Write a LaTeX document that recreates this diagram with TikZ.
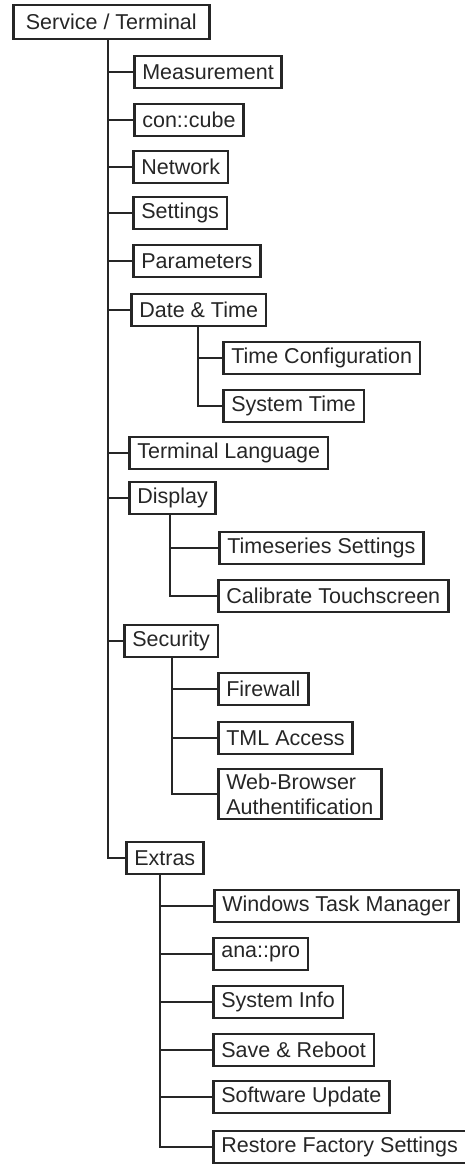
\documentclass[tikz,border=0pt]{standalone}
\usepackage{fontspec}
\setmainfont{Liberation Sans}
\begin{document}
\begin{tikzpicture}[x=1pt,y=-1pt,
  menubox/.style={draw=black!85, line width=2.6pt, anchor=west, minimum height=32pt,
    inner xsep=8pt, inner ysep=2pt, text=black!85, align=left,
    font=\fontsize{21.5}{25}\selectfont},
  link/.style={draw=black!85, line width=2.6pt}]
\useasboundingbox (0,0) rectangle (465,1165);

% menu entries
\node[menubox, minimum height=34pt, minimum width=196pt] (root) at (12,22) {Service / Terminal};
\node[menubox] (meas)    at (133,72)   {Measurement};
\node[menubox] (cube)    at (133,120)  {con::cube};
\node[menubox] (net)     at (132,167)  {Network};
\node[menubox] (sett)    at (132,213)  {Settings};
\node[menubox] (param)   at (132,261)  {Parameters};
\node[menubox] (date)    at (130,310)  {Date \& Time};
\node[menubox] (tconf)   at (222,358)  {Time Configuration};
\node[menubox] (systime) at (222,406)  {System Time};
\node[menubox] (lang)    at (128,453)  {Terminal Language};
\node[menubox] (disp)    at (128,498)  {Display};
\node[menubox] (tss)     at (218,548)  {Timeseries Settings};
\node[menubox] (calib)   at (217,596)  {Calibrate Touchscreen};
\node[menubox] (sec)     at (123,641)  {Security};
\node[menubox] (fw)      at (217,689)  {Firewall};
\node[menubox] (tml)     at (217,738)  {TML Access};
\node[menubox, inner ysep=4.5pt] (web) at (217,794) {Web-Browser\\Authentification};
\node[menubox] (extras)  at (125,858)  {Extras};
\node[menubox] (wtm)     at (213,906)  {Windows Task Manager};
\node[menubox] (ana)     at (212,954)  {ana::pro};
\node[menubox] (sinfo)   at (212,1002) {System Info};
\node[menubox] (save)    at (212,1050) {Save \& Reboot};
\node[menubox] (swu)     at (212,1097) {Software Update};
\node[menubox] (restore) at (212,1147) {Restore Factory Settings};

% trunk positions
\coordinate (tmain) at (108,0);
\coordinate (tdate) at (198,0);
\coordinate (tdisp) at (170,0);
\coordinate (tsec)  at (172,0);
\coordinate (text)  at (160,0);

% main trunk
\draw[link] (root.south -| tmain) |- (extras.west);
\foreach \c in {meas,cube,net,sett,param,date,lang,disp,sec}
  \draw[link] (\c.west -| tmain) -- (\c.west);

% Date & Time
\draw[link] (date.south -| tdate) |- (systime.west);
\draw[link] (tconf.west -| tdate) -- (tconf.west);

% Display
\draw[link] (disp.south -| tdisp) |- (calib.west);
\draw[link] (tss.west -| tdisp) -- (tss.west);

% Security
\draw[link] (sec.south -| tsec) |- (web.west);
\foreach \c in {fw,tml}
  \draw[link] (\c.west -| tsec) -- (\c.west);

% Extras
\draw[link] (extras.south -| text) |- (restore.west);
\foreach \c in {wtm,ana,sinfo,save,swu}
  \draw[link] (\c.west -| text) -- (\c.west);
\end{tikzpicture}
\end{document}
